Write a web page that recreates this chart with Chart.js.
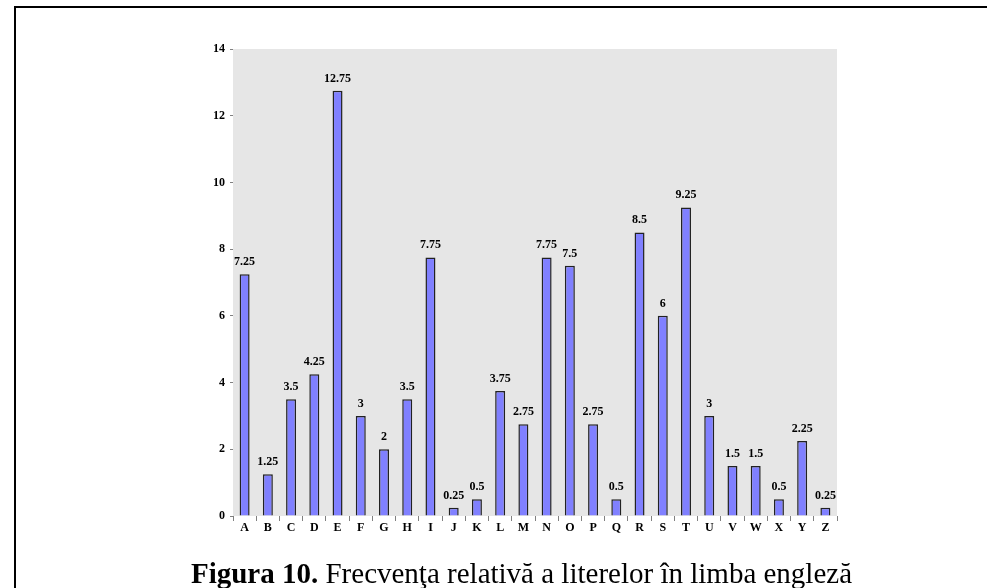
<!DOCTYPE html>
<html>
<head>
<meta charset="utf-8">
<script src="https://cdn.jsdelivr.net/npm/chart.js@4.4.1/dist/chart.umd.min.js"></script>
<style>
  html, body { margin: 0; padding: 0; background: #fff; }
  #wrap { position: relative; width: 987px; height: 588px; overflow: hidden; }
  #frame { position: absolute; left: 14px; top: 6px; width: 1100px; height: 700px;
           border-left: 2px solid #000; border-top: 2px solid #000; }
  #chart { position: absolute; left: 0; top: 0; }
  #caption { position: absolute; left: 0; width: 1043px; top: 559px; text-align: center; line-height: 29px;
             font-family: "Liberation Serif", "Times New Roman", serif; font-size: 29px; color: #000; white-space: nowrap; }
</style>
</head>
<body>
<div id="wrap">
  <div id="frame"></div>
  <canvas id="chart" width="987" height="588"></canvas>
  <div id="caption"><b>Figura 10.</b> Frecvenţa relativă a literelor în limba engleză</div>
</div>
<script>
// letters and their relative frequency (%)
const letters = ['A','B','C','D','E','F','G','H','I','J','K','L','M','N','O','P','Q','R','S','T','U','V','W','X','Y','Z'];
const freq = [7.25, 1.25, 3.5, 4.25, 12.75, 3, 2, 3.5, 7.75, 0.25, 0.5, 3.75, 2.75, 7.75, 7.5, 2.75, 0.5, 8.5, 6, 9.25, 3, 1.5, 1.5, 0.5, 2.25, 0.25];
const yTicks = [0, 2, 4, 6, 8, 10, 12, 14];

const serif = "'Liberation Serif', 'Times New Roman', serif";

// gray plot background
const plotBg = {
    id: 'plotBg',
    beforeDraw(chart) {
        const a = chart.chartArea;
        const ctx = chart.ctx;
        ctx.save();
        ctx.fillStyle = '#e6e6e6';
        ctx.fillRect(a.left, a.top, a.right - a.left, a.bottom - a.top);
        ctx.restore();
    }
};

// value labels over the bars
const barLabels = {
    id: 'barLabels',
    afterDatasetsDraw(chart) {
        const ctx = chart.ctx;
        const meta = chart.getDatasetMeta(0);
        ctx.save();
        ctx.font = 'bold 12px ' + serif;
        ctx.fillStyle = '#000';
        ctx.textAlign = 'center';
        ctx.textBaseline = 'alphabetic';
        meta.data.forEach((bar, i) => {
            ctx.fillText(String(freq[i]), bar.x, bar.y - 9);
        });
        ctx.restore();
    }
};

let ctx = document.getElementById('chart').getContext('2d');

let chart = new Chart(ctx, {
    type: 'bar',
    data: {
        labels: letters,
        datasets: [{
            data: freq,
            backgroundColor: '#8080ff',
            borderColor: '#222',
            borderWidth: 1.5,
            barPercentage: 0.43,
            categoryPercentage: 1
        }]
    },
    options: {
        responsive: false,
        animation: false,
        layout: { padding: { left: 0, right: 150, top: 49, bottom: 42 } },
        plugins: {
            legend: { display: false },
            tooltip: { enabled: false }
        },
        scales: {
            x: {
                grid: { offset: true, drawOnChartArea: false, drawTicks: true, tickLength: 5, color: '#808080' },
                border: { display: false },
                ticks: { font: { family: serif, size: 12, weight: 'bold' }, color: '#000', padding: 0, maxRotation: 0 },
                afterFit(s) { s.height = 30; }
            },
            y: {
                min: 0,
                max: 14,
                afterBuildTicks(s) { s.ticks = yTicks.map(v => ({ value: v })); },
                grid: { drawOnChartArea: false, drawTicks: true, tickLength: 3, color: '#808080' },
                border: { display: false },
                ticks: { font: { family: serif, size: 12, weight: 'bold' }, color: '#000', padding: 5 },
                afterFit(s) { s.width = 233; }
            }
        }
    },
    plugins: [plotBg, barLabels]
});
</script>
</body>
</html>
